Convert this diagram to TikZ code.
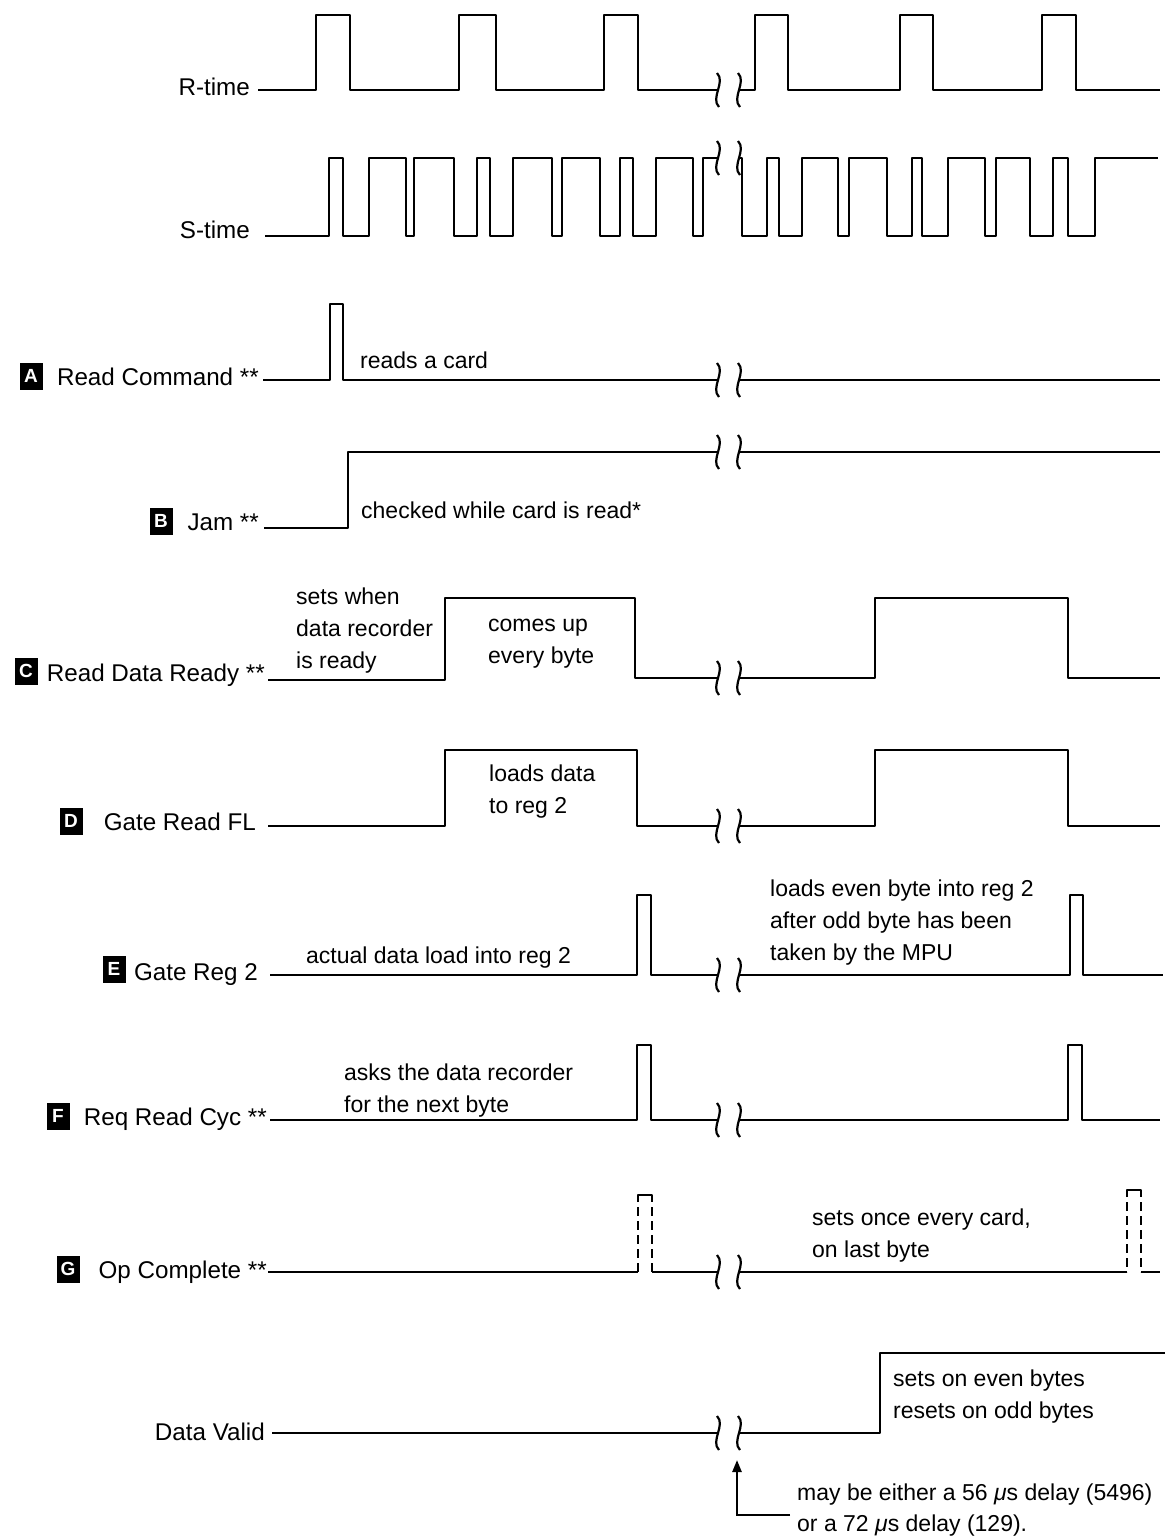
\documentclass[tikz,border=0pt]{standalone}
\usepackage{fontspec}
\setmainfont{Liberation Sans}
\usetikzlibrary{arrows.meta}
\begin{document}
\begin{tikzpicture}[x=1pt,y=-1pt,
  wave/.style={line width=2.6pt,line join=round},
  dwave/.style={line width=2.6pt,dash pattern=on 9pt off 5pt},
  lbl/.style={anchor=base east,inner sep=0pt,font=\fontsize{24.2}{28}\selectfont},
  ann/.style={anchor=base west,inner sep=0pt,font=\fontsize{23}{28}\selectfont},
  letterbox/.style={fill=black,text=white,minimum width=23pt,minimum height=27pt,inner sep=0pt,font=\fontsize{19}{20}\selectfont\bfseries},
  brk/.pic={\draw[line width=2.2pt] (-1,-17) .. controls (8,-8) and (-8,8) .. (1,17);}]
\useasboundingbox (0,0) rectangle (1170,1537);

% labels
\node[lbl] (lR) at (250,95) {R-time};
\node[lbl] (lS) at (250,238) {S-time};
\node[lbl] (lA) at (259,385) {Read Command **};
\node[lbl] (lB) at (259,530) {Jam **};
\node[lbl] (lC) at (265,681) {Read Data Ready **};
\node[lbl] (lD) at (256,830) {Gate Read FL};
\node[lbl] (lE) at (258,980) {Gate Reg 2};
\node[lbl] (lF) at (267,1125) {Req Read Cyc **};
\node[lbl] (lG) at (267,1278) {Op Complete **};
\node[lbl] (lV) at (265,1440) {Data Valid};

\node[letterbox] (bA) at (31,376) {A};
\node[letterbox] (bB) at (161,521) {B};
\node[letterbox] (bC) at (26,671) {C};
\node[letterbox] (bD) at (71,821) {D};
\node[letterbox] (bE) at (114,969) {E};
\node[letterbox] (bF) at (58,1116) {F};
\node[letterbox] (bG) at (68,1269) {G};

% R-time
\draw[wave] (258,90) -| (316,15) -| (350,90) -| (459,15) -| (496,90) -| (604,15) -| (638,90) -- (718,90);
\draw[wave] (739,90) -| (755,15) -| (788,90) -| (900,15) -| (933,90) -| (1042,15) -| (1076,90) -- (1160,90);
% S-time
\draw[wave] (265,236) -| (329,158) -| (343,236) -| (369,158) -| (406,236) -| (414,158) -| (454,236) -| (477,158) -| (490,236) -| (513,158) -| (552,236) -| (562,158) -| (600,236) -| (620,158) -| (633,236) -| (656,158) -| (693,236) -| (703,158) -- (718,158);
\draw[wave] (739,158) -| (742,236) -| (767,158) -| (779,236) -| (802,158) -| (838,236) -| (849,158) -| (887,236) -| (912,158) -| (922,236) -| (948,158) -| (985,236) -| (996,158) -| (1030,236) -| (1053,158) -| (1068,236) -| (1095,158) -- (1158,158);
% A
\draw[wave] (263,380) -| (330,304) -| (343,380) -- (718,380);
\draw[wave] (739,380) -- (1160,380);
% B
\draw[wave] (264,528) -| (348,452) -- (718,452);
\draw[wave] (739,452) -- (1160,452);
% C
\draw[wave] (268,680) -| (445,598) -| (635,678) -- (718,678);
\draw[wave] (739,678) -| (875,598) -| (1068,678) -- (1160,678);
% D
\draw[wave] (268,826) -| (445,750) -| (637,826) -- (718,826);
\draw[wave] (739,826) -| (875,750) -| (1068,826) -- (1160,826);
% E
\draw[wave] (270,975) -| (637,895) -| (651,975) -- (718,975);
\draw[wave] (739,975) -| (1070,895) -| (1083,975) -- (1163,975);
% F
\draw[wave] (270,1120) -| (637,1045) -| (651,1120) -- (718,1120);
\draw[wave] (739,1120) -| (1068,1045) -| (1082,1120) -- (1160,1120);
% G
\draw[wave] (268,1272) -- (638,1272);
\draw[wave] (652,1272) -- (718,1272);
\draw[wave] (739,1272) -- (1127,1272);
\draw[wave] (1141,1272) -- (1160,1272);
\draw[wave] (638,1202) -- (638,1195) -- (652,1195) -- (652,1202);
\draw[dwave] (638,1207) -- (638,1272);
\draw[dwave] (652,1207) -- (652,1272);
\draw[wave] (1127,1197) -- (1127,1190) -- (1141,1190) -- (1141,1197);
\draw[dwave] (1127,1202) -- (1127,1272);
\draw[dwave] (1141,1202) -- (1141,1272);
% Data Valid
\draw[wave] (272,1433) -- (718,1433);
\draw[wave] (739,1433) -| (880,1353) -- (1165,1353);

% break marks
\foreach \yy in {90,158,380,452,678,826,975,1120,1272,1433}{
  \pic at (718,\yy) {brk};
  \pic at (739,\yy) {brk};
}

% annotations
\node[ann] (tA) at (360,368) {reads a card};
\node[ann] (tB) at (361,518) {checked while card is read*};
\node[ann] (tC1) at (296,604) {sets when};
\node[ann] (tC2) at (296,636) {data recorder};
\node[ann] (tC3) at (296,668) {is ready};
\node[ann] (tC4) at (488,631) {comes up};
\node[ann] (tC5) at (488,663) {every byte};
\node[ann] (tD1) at (489,781) {loads data};
\node[ann] (tD2) at (489,813) {to reg 2};
\node[ann] (tE1) at (306,963) {actual data load into reg 2};
\node[ann] (tE2) at (770,896) {loads even byte into reg 2};
\node[ann] (tE3) at (770,928) {after odd byte has been};
\node[ann] (tE4) at (770,960) {taken by the MPU};
\node[ann] (tF1) at (344,1080) {asks the data recorder};
\node[ann] (tF2) at (344,1112) {for the next byte};
\node[ann] (tG1) at (812,1225) {sets once every card,};
\node[ann] (tG2) at (812,1257) {on last byte};
\node[ann] (tV1) at (893,1386) {sets on even bytes};
\node[ann] (tV2) at (893,1418) {resets on odd bytes};
\node[ann] (tN1) at (797,1500) {may be either a 56 \textit{μ}s delay (5496)};
\node[ann] (tN2) at (797,1531) {or a 72 \textit{μ}s delay (129).};

% arrow
\coordinate (aS) at (790,1515);
\coordinate (aC) at (737,1515);
\coordinate (aT) at (737,1460);
\draw[line width=2.4pt,-{Triangle[length=12pt,width=9pt]}] (aS) -- (aC) -- (aT);
\end{tikzpicture}
\end{document}
